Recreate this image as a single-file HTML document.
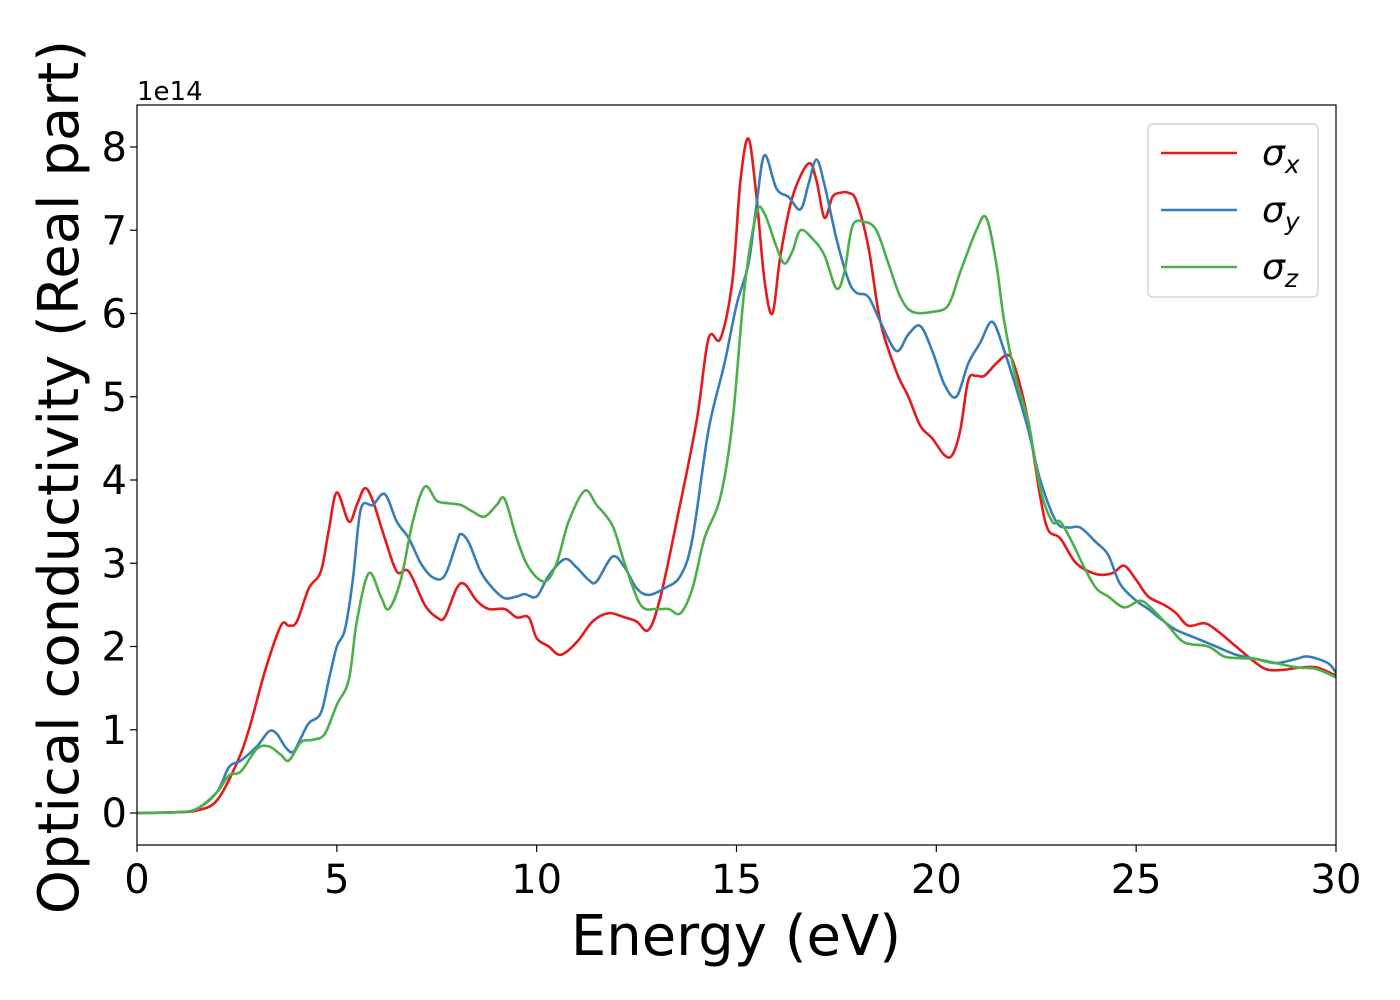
<!DOCTYPE html>
<html><head><meta charset="utf-8"><style>body{margin:0;background:#fff}svg{display:block}text{font-family:"DejaVu Sans","Liberation Sans",sans-serif}</style></head>
<body>
<svg id="chart" width="1400" height="1000" xmlns="http://www.w3.org/2000/svg">
<g id="plot"></g>
</svg>
<script>
const xTicks=[0,5,10,15,20,25,30];
const yTicks=[0,1,2,3,4,5,6,7,8];
const seriesNames=["σx","σy","σz"];
const sigmaX=[[0,0],[1,0.01],[1.5,0.03],[2,0.15],[2.5,0.6],[2.8,1.0],[3.2,1.7],[3.6,2.25],[3.8,2.25],[4,2.3],[4.3,2.7],[4.6,2.9],[4.8,3.4],[5,3.85],[5.3,3.5],[5.5,3.7],[5.7,3.9],[5.9,3.75],[6.2,3.3],[6.5,2.9],[6.8,2.9],[7.2,2.5],[7.5,2.35],[7.7,2.35],[8,2.7],[8.2,2.75],[8.5,2.55],[8.8,2.45],[9.2,2.45],[9.5,2.35],[9.8,2.35],[10,2.1],[10.3,2.0],[10.6,1.9],[11,2.05],[11.4,2.3],[11.8,2.4],[12.2,2.35],[12.5,2.3],[12.8,2.2],[13.1,2.6],[13.5,3.5],[14,4.7],[14.3,5.7],[14.6,5.7],[14.9,6.4],[15.1,7.6],[15.3,8.1],[15.5,7.4],[15.7,6.4],[15.9,6.0],[16.1,6.7],[16.4,7.4],[16.8,7.8],[17,7.6],[17.2,7.15],[17.4,7.4],[17.6,7.45],[17.8,7.45],[18,7.35],[18.3,6.8],[18.6,5.9],[19,5.3],[19.3,5.0],[19.6,4.65],[19.9,4.5],[20.2,4.3],[20.4,4.3],[20.6,4.6],[20.8,5.2],[21,5.25],[21.2,5.25],[21.5,5.4],[21.8,5.5],[22,5.3],[22.3,4.7],[22.6,3.8],[22.8,3.4],[23.1,3.3],[23.5,3.0],[24,2.87],[24.4,2.88],[24.7,2.97],[25,2.8],[25.3,2.6],[25.7,2.5],[26,2.4],[26.3,2.25],[26.7,2.28],[27,2.2],[27.5,2.0],[28,1.8],[28.3,1.72],[28.7,1.72],[29,1.74],[29.5,1.75],[30,1.65]];
const sigmaY=[[0,0],[1,0.01],[1.5,0.05],[2,0.25],[2.3,0.55],[2.6,0.63],[3,0.8],[3.3,0.98],[3.5,0.95],[3.7,0.8],[3.9,0.73],[4.1,0.9],[4.3,1.08],[4.6,1.2],[4.8,1.6],[5,2.0],[5.2,2.2],[5.4,2.8],[5.6,3.65],[5.9,3.7],[6.2,3.83],[6.5,3.5],[6.8,3.3],[7.1,3.0],[7.4,2.83],[7.7,2.85],[8,3.25],[8.1,3.35],[8.3,3.25],[8.6,2.9],[8.9,2.7],[9.2,2.58],[9.5,2.6],[9.7,2.63],[10,2.6],[10.3,2.85],[10.7,3.05],[11,2.95],[11.3,2.8],[11.5,2.78],[11.9,3.08],[12.2,2.95],[12.5,2.7],[12.8,2.62],[13.2,2.7],[13.6,2.85],[13.9,3.3],[14.3,4.6],[14.7,5.4],[15,6.1],[15.3,6.6],[15.5,7.3],[15.7,7.9],[16,7.5],[16.3,7.4],[16.6,7.25],[16.8,7.55],[17,7.85],[17.2,7.55],[17.5,6.9],[17.8,6.4],[18,6.25],[18.3,6.2],[18.6,5.9],[19,5.55],[19.3,5.75],[19.6,5.85],[19.9,5.55],[20.2,5.15],[20.5,5.0],[20.8,5.4],[21.1,5.65],[21.4,5.9],[21.7,5.55],[22,5.1],[22.3,4.6],[22.6,4.0],[23,3.5],[23.3,3.43],[23.6,3.43],[24,3.25],[24.3,3.1],[24.6,2.75],[25,2.55],[25.3,2.45],[25.7,2.3],[26,2.2],[26.5,2.1],[27,2.0],[27.5,1.9],[28,1.85],[28.5,1.8],[29,1.85],[29.3,1.88],[29.8,1.8],[30,1.68]];
const sigmaZ=[[0,0],[1,0.01],[1.5,0.05],[2,0.25],[2.3,0.45],[2.6,0.5],[3,0.77],[3.3,0.8],[3.6,0.7],[3.8,0.63],[4.1,0.85],[4.4,0.88],[4.7,0.95],[5,1.3],[5.3,1.6],[5.5,2.3],[5.8,2.88],[6.1,2.6],[6.3,2.45],[6.6,2.8],[6.9,3.5],[7.2,3.92],[7.5,3.75],[7.8,3.72],[8.1,3.7],[8.4,3.62],[8.7,3.56],[9,3.7],[9.2,3.77],[9.5,3.3],[9.8,2.95],[10.2,2.78],[10.5,3.0],[10.8,3.5],[11.2,3.87],[11.5,3.7],[11.9,3.45],[12.2,3.0],[12.6,2.5],[13,2.45],[13.3,2.45],[13.6,2.4],[13.9,2.7],[14.2,3.3],[14.6,3.8],[14.9,4.7],[15.2,6.3],[15.5,7.2],[15.7,7.2],[16,6.8],[16.2,6.6],[16.4,6.75],[16.6,7.0],[16.9,6.9],[17.2,6.7],[17.5,6.3],[17.7,6.5],[17.9,7.05],[18.2,7.1],[18.5,7.0],[18.8,6.6],[19.1,6.2],[19.4,6.02],[19.9,6.02],[20.3,6.1],[20.6,6.5],[21,7.0],[21.25,7.15],[21.5,6.6],[21.7,5.9],[22,5.2],[22.3,4.7],[22.6,3.9],[22.9,3.5],[23.1,3.5],[23.4,3.25],[23.7,2.95],[24,2.7],[24.3,2.6],[24.7,2.47],[25.1,2.55],[25.4,2.45],[25.8,2.25],[26.2,2.05],[26.8,2.0],[27.2,1.88],[27.6,1.86],[28,1.85],[28.5,1.8],[29,1.75],[29.5,1.73],[30,1.63]];

const L=137,R=1336,T=105,B=845;
const xs=v=>L+(v-0)/30*(R-L);
const ys=v=>813-v*83.25;
const NS="http://www.w3.org/2000/svg";
const g=document.getElementById('plot');
function mk(tag,attrs,parent){const e=document.createElementNS(NS,tag);for(const k in attrs)e.setAttribute(k,attrs[k]);(parent||g).appendChild(e);return e;}
const clip=mk('clipPath',{id:'pc'});mk('rect',{x:L,y:T,width:R-L,height:B-T},clip);
function pathD(data){const p=data.map(d=>[xs(d[0]),ys(d[1])]);let s='M'+p[0][0]+','+p[0][1];
for(let i=0;i<p.length-1;i++){const p0=p[Math.max(0,i-1)],p1=p[i],p2=p[i+1],p3=p[Math.min(p.length-1,i+2)];
const c1=[p1[0]+(p2[0]-p0[0])/6,p1[1]+(p2[1]-p0[1])/6],c2=[p2[0]-(p3[0]-p1[0])/6,p2[1]-(p3[1]-p1[1])/6];
s+=' C'+c1[0].toFixed(1)+','+c1[1].toFixed(1)+' '+c2[0].toFixed(1)+','+c2[1].toFixed(1)+' '+p2[0].toFixed(1)+','+p2[1].toFixed(1);}return s;}
const colors=["#e41a1c","#377eb8","#4daf4a"];
[sigmaX,sigmaY,sigmaZ].forEach((d,i)=>{const e=mk('path',{d:pathD(d),fill:'none',stroke:colors[i],'stroke-width':2.6,'clip-path':'url(#pc)'});

});
const frame=mk('rect',{x:L,y:T,width:R-L,height:B-T,fill:'none',stroke:'#000','stroke-width':1.2});


xTicks.forEach(v=>{mk('line',{x1:xs(v),x2:xs(v),y1:B,y2:B+7,stroke:'#000','stroke-width':1.2});
const t=mk('text',{x:xs(v),y:893,'font-size':40,'text-anchor':'middle'});t.textContent=v;

});
yTicks.forEach(v=>{mk('line',{x1:L-7,x2:L,y1:ys(v),y2:ys(v),stroke:'#000','stroke-width':1.2});
const t=mk('text',{x:127,y:ys(v)+14,'font-size':40,'text-anchor':'end'});t.textContent=v;

});
let t=mk('text',{x:137,y:100,'font-size':26});t.textContent='1e14';


t=mk('text',{x:736,y:955,'font-size':56,'text-anchor':'middle'});t.textContent='Energy (eV)';


t=mk('text',{x:0,y:0,'font-size':56,'text-anchor':'middle',transform:'translate(78,477) rotate(-90)'});t.textContent='Optical conductivity (Real part)';


const lg=mk('g',{});


mk('rect',{x:1148,y:124,width:170,height:173,rx:5,fill:'#fff','fill-opacity':0.8,stroke:'#ccc','stroke-width':1.2},lg);
["x","y","z"].forEach((s,i)=>{const yy=153+i*57;
mk('line',{x1:1161,x2:1237,y1:yy,y2:yy,stroke:colors[i],'stroke-width':2.6},lg);
const tx=mk('text',{x:1262,y:yy+12,'font-size':36,'font-style':'italic'},lg);


tx.textContent='σ';const sub=mk('tspan',{'font-size':25,dy:8},tx);sub.textContent=s;});
</script>
</body></html>
